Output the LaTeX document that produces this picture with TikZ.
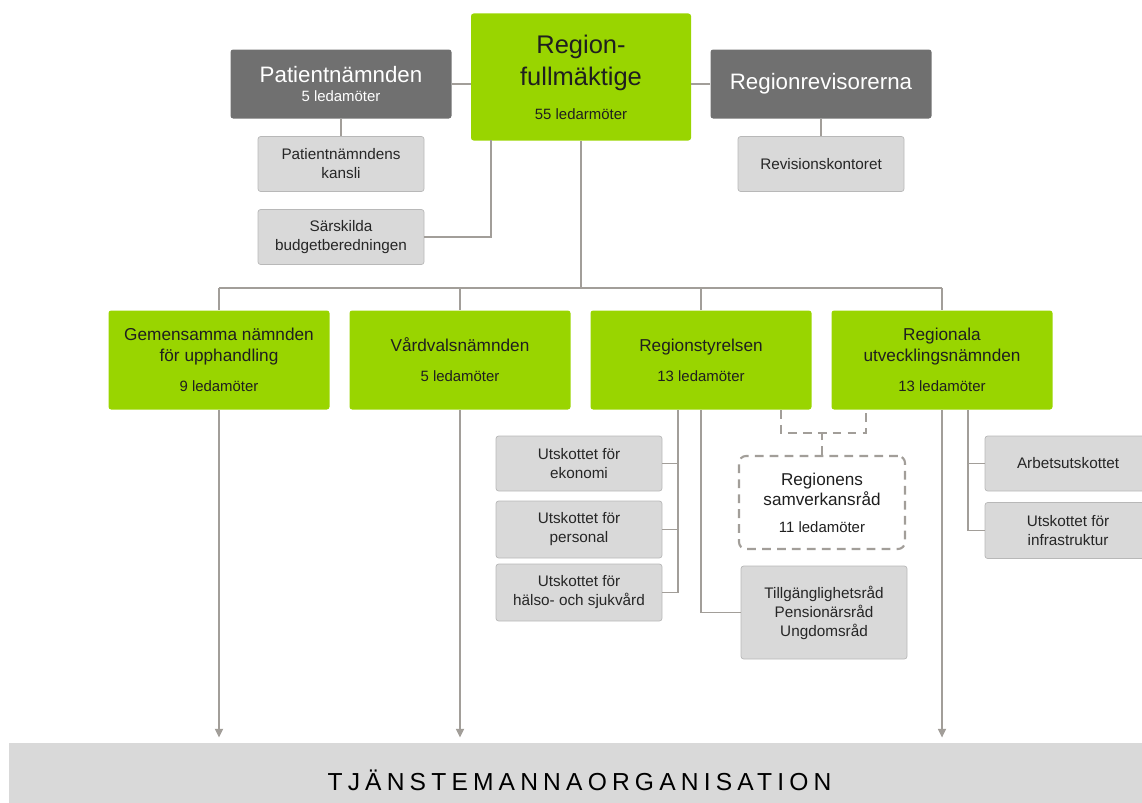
\documentclass[tikz,border=0pt]{standalone}
\usepackage{fontspec}
\setmainfont{Liberation Sans}
\usepackage{xcolor}
\usetikzlibrary{arrows.meta,positioning}

\definecolor{boardgreen}{HTML}{99D500}
\definecolor{panelgray}{HTML}{707070}
\definecolor{boxgray}{HTML}{D9D9D9}
\definecolor{boxline}{HTML}{B8B8B8}
\definecolor{linkgray}{HTML}{A29E99}
\newcommand{\ledam}[1]{{\fontsize{8.5}{10}\selectfont #1}}

\begin{document}
\begin{tikzpicture}[x=0.2mm,y=-0.2mm,
  board/.style={rectangle,rounded corners=1.5pt,fill=boardgreen,text=black!88,align=center,
    inner sep=0pt,minimum width=44.2mm,minimum height=19.8mm,font=\fontsize{9.8}{12}\selectfont},
  topboard/.style={board,minimum width=44mm,minimum height=25.4mm,font=\fontsize{14.5}{18.3}\selectfont},
  panel/.style={rectangle,rounded corners=1.5pt,fill=panelgray,text=white,align=center,
    inner sep=0pt,minimum width=44.2mm,minimum height=13.8mm,font=\fontsize{12.7}{12}\selectfont},
  subunit/.style={rectangle,rounded corners=1.5pt,draw=boxline,fill=boxgray,text=black!85,align=center,
    inner sep=0pt,minimum width=33.2mm,minimum height=11mm,font=\fontsize{8.7}{10.8}\selectfont},
  council/.style={rectangle,rounded corners=4pt,draw=linkgray,line width=1.2pt,dash pattern=on 5pt off 3.5pt,
    fill=white,text=black!88,align=center,inner sep=0pt,minimum width=33.2mm,minimum height=18.6mm,
    font=\fontsize{9.75}{11.3}\selectfont},
  link/.style={draw=linkgray,line width=1.1pt},
  dashlink/.style={link,dash pattern=on 5pt off 3.5pt},
  feed/.style={link,-{Triangle[length=5pt,width=4.5pt]},shorten >=1mm}
]
  \useasboundingbox (0,0) rectangle (1142,802);

  % Top level
  \node[topboard] (rf) at (581,77) {Region-\\fullmäktige\\[1pt]\ledam{55 ledarmöter}};
  \node[panel] (pn) at (341,84) {Patientnämnden\\[-1pt]\ledam{5 ledamöter}};
  \node[panel] (rr) at (821,84) {Regionrevisorerna};
  \node[subunit] (pnk) at (341,164) {Patientnämndens\\kansli};
  \node[subunit] (sb) at (341,237) {Särskilda\\budgetberedningen};
  \node[subunit] (rk) at (821,164) {Revisionskontoret};

  % Boards and committees
  \node[board] (gn) at (219,360) {Gemensamma nämnden\\för upphandling\\[5pt]\ledam{9 ledamöter}};
  \node[board] (vn) at (460,360) {Vårdvalsnämnden\\[5pt]\ledam{5 ledamöter}};
  \node[board] (rs) at (701,360) {Regionstyrelsen\\[5pt]\ledam{13 ledamöter}};
  \node[board] (run) at (942,360) {Regionala\\utvecklingsnämnden\\[5pt]\ledam{13 ledamöter}};

  % Under Regionstyrelsen
  \node[subunit] (ue) at (579,463.5) {Utskottet för\\ekonomi};
  \node[subunit,minimum height=11.4mm] (up) at (579,529.5) {Utskottet för\\personal};
  \node[subunit,minimum height=11.4mm] (uh) at (579,592.5) {Utskottet för\\hälso- och sjukvård};
  \node[council] (sr) at (822,502.5) {Regionens\\samverkansråd\\[4pt]\ledam{11 ledamöter}};
  \node[subunit,minimum height=18.6mm] (tpu) at (824,612.5) {Tillgänglighetsråd\\Pensionärsråd\\Ungdomsråd};

  % Under Regionala utvecklingsnämnden
  \node[subunit] (au) at (1068,463.5) {Arbetsutskottet};
  \node[subunit,minimum height=11.2mm] (ui) at (1068,530.5) {Utskottet för\\infrastruktur};

  % Tjänstemannaorganisation
  \node[fill=boxgray,minimum width=228.2mm,minimum height=14.8mm,inner sep=0pt,
    font=\fontsize{14}{16}\selectfont\addfontfeature{LetterSpace=21}] (tjo) at (579.5,780) {TJÄNSTEMANNAORGANISATION};

  \coordinate (bus) at (581,288);
  \coordinate (sbj) at (491,140);
  \coordinate (rsl) at (678,410);
  \coordinate (sra) at (781,410);
  \coordinate (srb) at (866,410);
  \coordinate (rul) at (968,410);

  % Top connectors
  \draw[link] (pn.east) -- (pn.east -| rf.west);
  \draw[link] (rr.west) -- (rr.west -| rf.east);
  \draw[link] (pn.south) -- (pn.south |- pnk.north);
  \draw[link] (rr.south) -- (rr.south |- rk.north);
  \draw[link] (sbj) |- (sb.east);

  % Bus
  \draw[link] (rf.south) -- (bus);
  \draw[link] (gn.north |- bus) -- (run.north |- bus);
  \foreach \b in {gn,vn,rs,run}
    \draw[link] (\b.north |- bus) -- (\b.north);

  % Regionstyrelsen
  \draw[link] (rsl) |- (uh.east);
  \draw[link] (ue.east) -- (ue.east -| rsl);
  \draw[link] (up.east) -- (up.east -| rsl);
  \draw[link] (rs.south) |- (tpu.west);
  \draw[dashlink] (sra) -- ++(0,23) -| (srb);
  \draw[dashlink] (sr.north) -- ++(0,-23);

  % Regionala utvecklingsnämnden
  \draw[link] (rul) |- (ui.west);
  \draw[link] (au.west) -- (au.west -| rul);

  % Arrows down
  \foreach \b in {gn,vn,run}
    \draw[feed] (\b.south) -- (\b.south |- tjo.north);
\end{tikzpicture}
\end{document}
